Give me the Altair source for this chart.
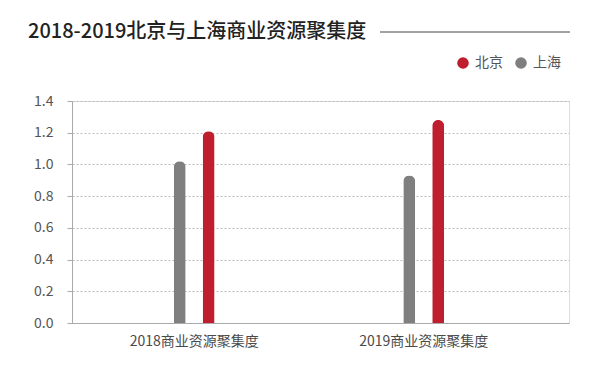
import altair as alt
import pandas as pd

categories = ["2018商业资源聚集度", "2019商业资源聚集度"]
series = ["上海", "北京"]
shanghai = [1.02, 0.93]
beijing = [1.21, 1.28]

rows = []
for i, c in enumerate(categories):
    rows.append({"cat": c, "city": "上海", "value": shanghai[i]})
    rows.append({"cat": c, "city": "北京", "value": beijing[i]})
df = pd.DataFrame(rows)

RED = "#BE1E2D"
GRAY = "#7F7F7F"
FONT = "Noto Sans CJK SC"

W, H = 497, 222

bars = alt.Chart(df).mark_bar(size=12, cornerRadiusEnd=6).encode(
    x=alt.X("cat:N", sort=categories, title=None,
            scale=alt.Scale(paddingInner=0.748, paddingOuter=0.4565, align=0.445),
            axis=alt.Axis(labelAngle=0, ticks=False, domainColor="#AAAAAA",
                          labelFontSize=14, labelColor="#4A4A4A", labelFont=FONT,
                          labelPadding=11, grid=False)),
    xOffset=alt.XOffset("city:N", sort=["上海", "北京"],
                        scale=alt.Scale(paddingInner=0, paddingOuter=0)),
    y=alt.Y("value:Q", title=None,
            scale=alt.Scale(domain=[0, 1.4], nice=False),
            axis=alt.Axis(values=[0, 0.2, 0.4, 0.6, 0.8, 1.0, 1.2, 1.4], format=".1f",
                          labelFontSize=14, labelColor="#555555", labelFont=FONT,
                          labelPadding=14, tickSize=5, tickColor="#AAAAAA",
                          domainColor="#AAAAAA",
                          grid=True, gridColor="#BBBBBB", gridDash=[2, 2], gridWidth=1)),
    color=alt.Color("city:N", scale=alt.Scale(domain=["北京", "上海"], range=[RED, GRAY]),
                    legend=alt.Legend(title=None, orient="none", legendX=384, legendY=-45,
                                      direction="horizontal", symbolType="circle",
                                      symbolSize=135, symbolStrokeWidth=0,
                                      labelFontSize=14, labelColor="#555555", labelFont=FONT,
                                      columnPadding=11, labelOffset=5)),
)

deco = alt.Chart(pd.DataFrame({"a": [0]})).mark_rule(color="#444444", strokeWidth=1).encode(
    x=alt.value(308), x2=alt.value(498), y=alt.value(-69)
)

chart = alt.layer(bars, deco).properties(
    width=W, height=H,
    title=alt.TitleParams("2018-2019北京与上海商业资源聚集度", anchor="start", frame="group",
                          dx=-44, fontSize=20, font=FONT, fontWeight=500, color="#222222",
                          offset=-10),
    padding={"left": 64, "top": 93, "right": 23, "bottom": 35},
    autosize=alt.AutoSizeParams(type="none"),
).configure_view(stroke=None).configure(background="white")

chart.save("out.html", embed_options={"renderer": "svg", "actions": False})
